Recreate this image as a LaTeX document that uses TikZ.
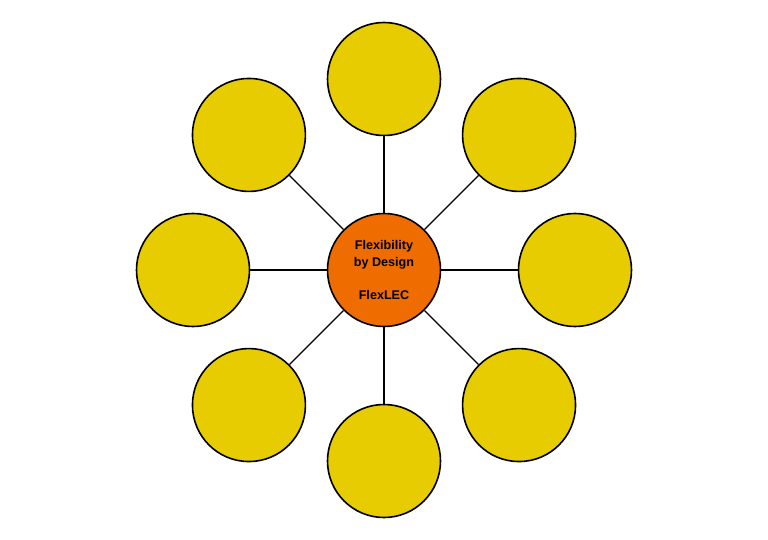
\documentclass[tikz,border=0pt]{standalone}
\usepackage{fontspec}
\setmainfont{Liberation Sans}
\usetikzlibrary{positioning, calc}
\definecolor{flexYellow}{HTML}{E6CC00}
\definecolor{flexOrange}{HTML}{EE6C00}

\begin{document}
\begin{tikzpicture}[x=1pt, y=-1pt,
    hub/.style={circle, draw=black, line width=1.6pt, fill=flexOrange,
                minimum size=113pt, inner sep=0pt, align=center,
                font=\fontsize{12.6}{16.5}\selectfont\bfseries},
    petal/.style={circle, draw=black, line width=1.6pt, fill=flexYellow,
                minimum size=113pt, inner sep=0pt},
    spoke/.style={draw=black, line width=1.4pt},
  ]
    \useasboundingbox (0,0) rectangle (768,540);
    \node[hub] (core) at (384,270) {Flexibility\\by Design\\[16.5pt]FlexLEC};

    \foreach \ang/\nm in {90/n, 45/ne, 0/e, -45/se, -90/s, -135/sw, 180/w, 135/nw} {
      \node[petal] (p\nm) at ($(core.center)+(\ang:191 and -191)$) {};
      \draw[spoke] (core) -- (p\nm);
    }
  \end{tikzpicture}
\end{document}
